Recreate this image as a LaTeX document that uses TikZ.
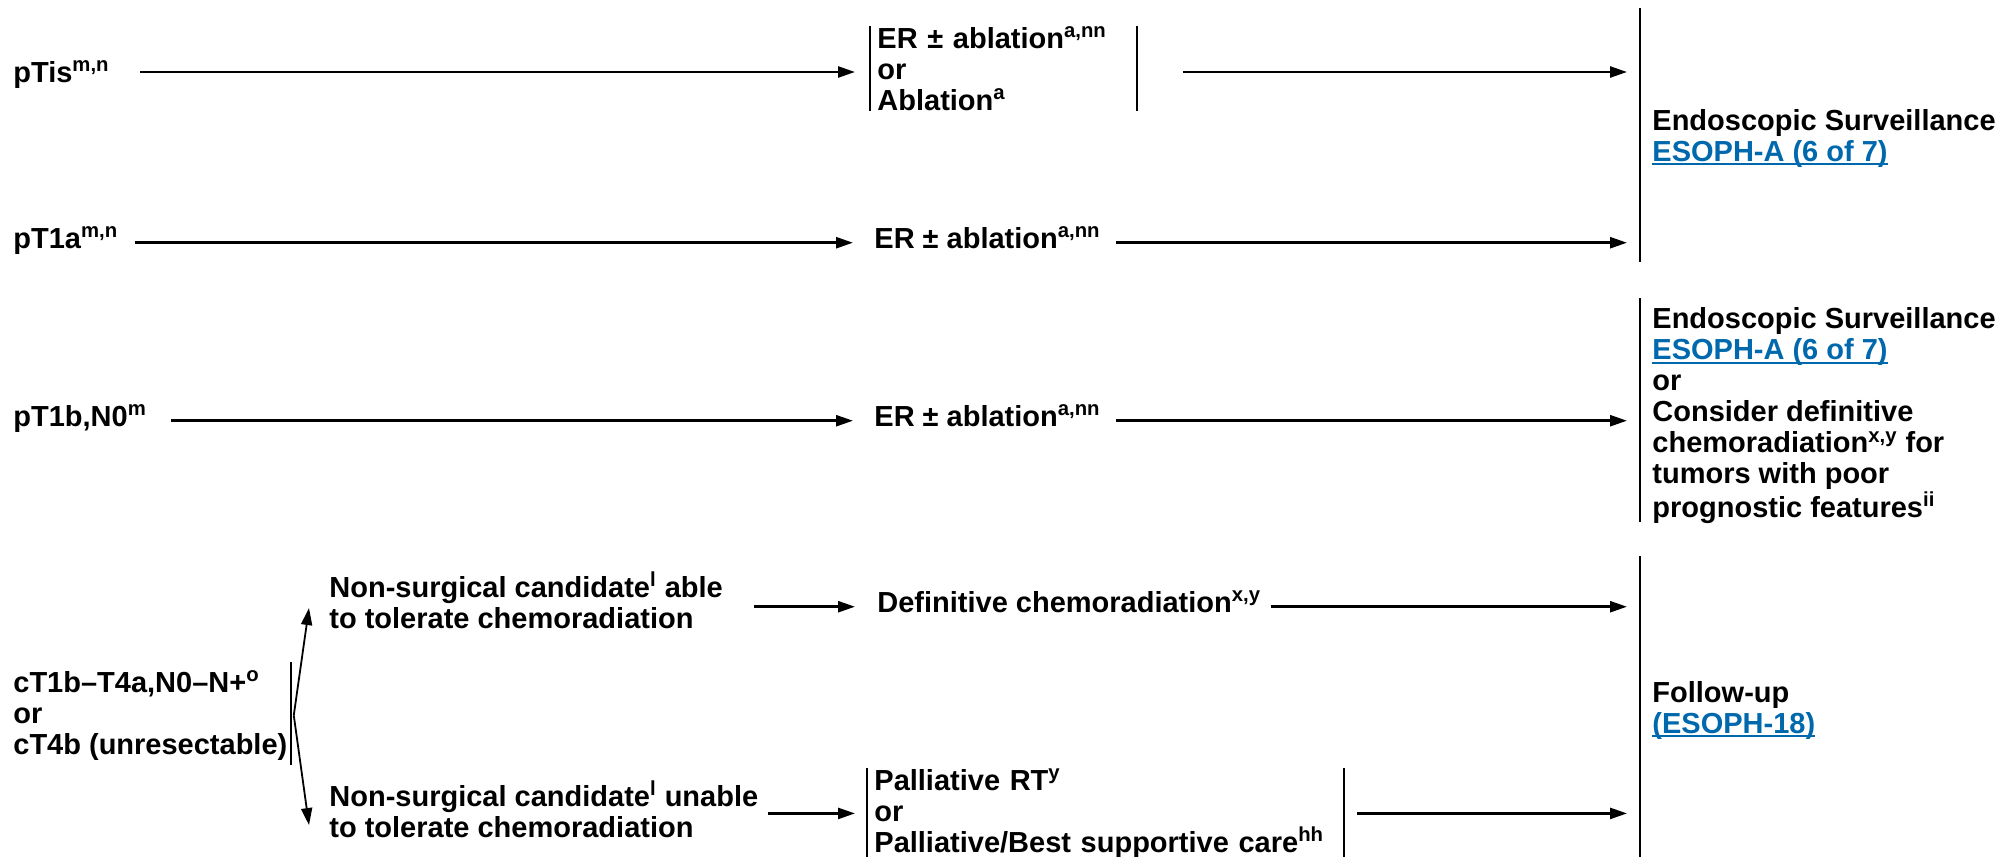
\documentclass[tikz,border=0pt]{standalone}
\usepackage{fontspec}
\setmainfont{Liberation Sans}
\usepackage{xcolor}
\usetikzlibrary{positioning, arrows.meta, calc}
\definecolor{linkblue}{RGB}{0,104,172}
\newcommand{\lnk}[1]{\textcolor{linkblue}{\setbox0\hbox{#1}\rlap{\rule[-2pt]{\wd0}{0.8pt}}\box0}}

\begin{document}
\begin{tikzpicture}[x=0.5pt, y=-0.5pt,
    txt/.style={anchor=base west, inner sep=0pt, align=left,
      font=\fontsize{14.5pt}{15.5pt}\selectfont\bfseries},
    brk/.style={txt, inner xsep=3.5pt},
    arr/.style={line width=1.25pt, -{Triangle[length=8.5pt, width=5.5pt]}},
    fk/.style={arr, line width=0.9pt},
    bar/.style={line width=0.9pt}]
    \path[use as bounding box] (0,0) rectangle (1999,857);

    % Stages
    \node[txt] (pTis) at (13,82) {pTis\textsuperscript{m,n}};
    \node[txt] (pTia) at (13,248) {pT1a\textsuperscript{m,n}};
    \node[txt] (pTib) at (13,426) {pT1b,N0\textsuperscript{m}};
    \node[txt] (cTstage) at (13,754) {cT1b–T4a,N0–N+\textsuperscript{o}\\or\\cT4b (unresectable)};

    % Candidates
    \node[txt] (nsAble) at (329,628) {Non-surgical candidate\textsuperscript{l} able\\to tolerate chemoradiation};
    \node[txt] (nsUnable) at (329,837) {Non-surgical candidate\textsuperscript{l} unable\\to tolerate chemoradiation};

    % Treatment
    \node[brk, text width=126pt] (erBoth) at (870,48) {ER ± ablation\textsuperscript{a,nn}\\or\\Ablation\textsuperscript{a}};
    \node[txt] (erA) at (874,248) {ER ± ablation\textsuperscript{a,nn}};
    \node[txt] (erB) at (874,426) {ER ± ablation\textsuperscript{a,nn}};
    \node[txt] (dcrt) at (877,612) {Definitive chemoradiation\textsuperscript{x,y}};
    \node[brk, text width=231pt] (palli) at (867,790) {Palliative RT\textsuperscript{y}\\or\\Palliative/Best supportive care\textsuperscript{hh}};
    \draw[bar] (erBoth.north west) -- (erBoth.south west);
    \draw[bar] (erBoth.north east) -- (erBoth.south east);
    \draw[bar] (palli.north west) -- (palli.south west);
    \draw[bar] (palli.north east) -- (palli.south east);

    % Follow-up
    \coordinate (barAtop) at (1640,8);
    \coordinate (barAbot) at (1640,262);
    \coordinate (barBtop) at (1640,298);
    \coordinate (barBbot) at (1640,522);
    \coordinate (barCtop) at (1640,556);
    \coordinate (barCbot) at (1640,857);
    \draw[bar] (barAtop) -- (barAbot);
    \draw[bar] (barBtop) -- (barBbot);
    \draw[bar] (barCtop) -- (barCbot);
    \node[txt] (survA) at (1652,161) {Endoscopic Surveillance\\\lnk{ESOPH-A (6 of 7)}};
    \node[txt] (survB) at (1652,517) {Endoscopic Surveillance\\\lnk{ESOPH-A (6 of 7)}\\or\\Consider definitive\\chemoradiation\textsuperscript{x,y} for\\tumors with poor\\prognostic features\textsuperscript{ii}};
    \node[txt] (follow) at (1652,733) {Follow-up\\\lnk{(ESOPH-18)}};

    % Arrows
    \coordinate (rowA) at (0,72);
    \draw[arr, shorten >=7.5pt] ($(pTis.east |- rowA)+(15pt,0)$) -- (erBoth.west |- rowA);
    \draw[arr, shorten >=6.5pt] ($(erBoth.east |- rowA)+(23pt,0)$) -- (barAtop |- rowA);
    \draw[arr, shorten >=10.5pt] ($(pTia.mid east)+(8pt,0)$) -- (erA.mid west);
    \draw[arr, shorten >=6.5pt] ($(erA.mid east)+(7.5pt,0)$) -- (erA.mid east -| barAtop);
    \draw[arr, shorten >=10.5pt] ($(pTib.mid east)+(12pt,0)$) -- (erB.mid west);
    \draw[arr, shorten >=6.5pt] ($(erB.mid east)+(7.5pt,0)$) -- (erB.mid east -| barBtop);
    \draw[arr, shorten >=11pt] ($(nsAble.east |- dcrt.mid)+(15.5pt,0)$) -- (dcrt.mid west);
    \draw[arr, shorten >=6.5pt] ($(dcrt.mid east)+(4.5pt,0)$) -- (dcrt.mid east -| barCtop);
    \draw[arr, shorten >=6pt] ($(nsUnable.east |- palli.west)+(4.5pt,0)$) -- (palli.west);
    \draw[arr, shorten >=6.5pt] ($(palli.east)+(6.5pt,0)$) -- (palli.east -| barCtop);

    % Fork
    \draw[bar] ($(cTstage.north east)+(1.5pt,4pt)$) -- ($(cTstage.south east)+(1.5pt,-2.5pt)$);
    \coordinate (fork) at ($(cTstage.east)+(3pt,0)$);
    \draw[fk] (fork) -- ($(nsAble.west)+(-10pt,-4pt)$);
    \draw[fk] (fork) -- ($(nsUnable.west)+(-10pt,-8pt)$);
\end{tikzpicture}
\end{document}
